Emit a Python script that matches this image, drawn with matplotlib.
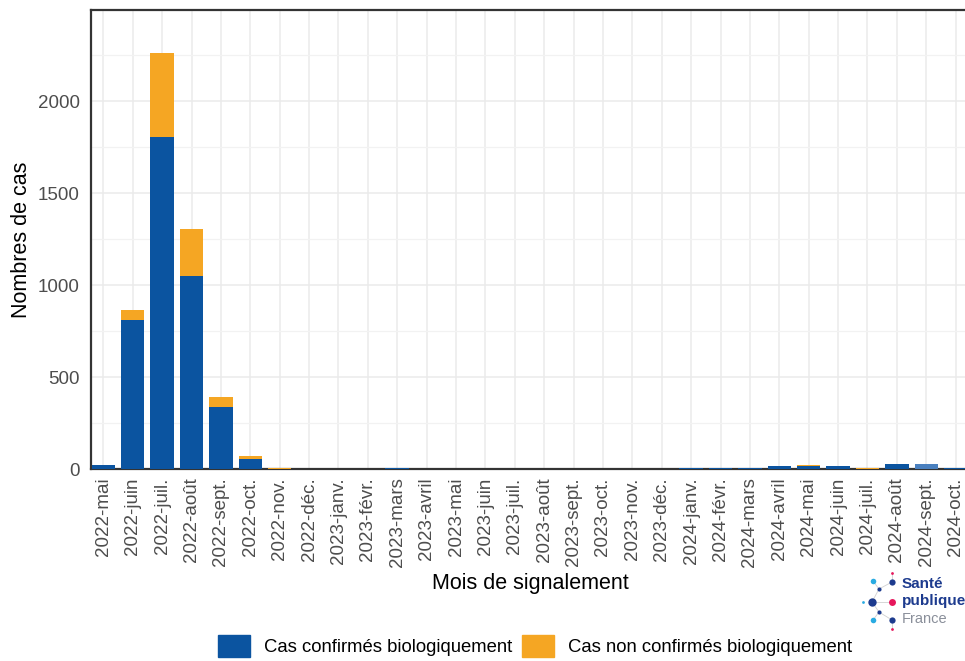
import matplotlib
matplotlib.use('Agg')
import matplotlib.pyplot as plt
import numpy as np

plt.rcParams['font.family'] = ['Liberation Sans', 'DejaVu Sans']

# Monthly case counts
mois = ['2022-mai', '2022-juin', '2022-juil.', '2022-août', '2022-sept.', '2022-oct.',
        '2022-nov.', '2022-déc.', '2023-janv.', '2023-févr.', '2023-mars', '2023-avril',
        '2023-mai', '2023-juin', '2023-juil.', '2023-août', '2023-sept.', '2023-oct.',
        '2023-nov.', '2023-déc.', '2024-janv.', '2024-févr.', '2024-mars', '2024-avril',
        '2024-mai', '2024-juin', '2024-juil.', '2024-août', '2024-sept.', '2024-oct.']
confirmes = [22, 810, 1804, 1049, 337, 55, 1, 0, 0, 0, 8, 1, 0, 0, 0, 0, 0, 0,
             0, 0, 6, 6, 6, 14, 16, 14, 1, 25, 25, 7]
non_confirmes = [0, 55, 457, 255, 54, 17, 6, 0, 0, 0, 0, 0, 0, 0, 0, 0, 0, 0,
                 0, 0, 0, 0, 0, 0, 4, 0, 6, 0, 0, 0]
# last complete month is drawn lighter
incomplet = '2024-sept.'

BLEU = '#0b54a0'
BLEU_CLAIR = '#4a80bf'
ORANGE = '#f5a623'

W, H = 965, 661
fig = plt.figure(figsize=(W / 100, H / 100), dpi=100)
x_left, x_right, y_top, y_bot = 91, 968, 10, 469
ax = fig.add_axes([x_left / W, (H - y_bot) / H, (x_right - x_left) / W, (y_bot - y_top) / H])

x = np.arange(len(mois))
couleurs = [BLEU_CLAIR if m == incomplet else BLEU for m in mois]
ax.bar(x, confirmes, width=0.8, color=couleurs, zorder=3)
ax.bar(x, non_confirmes, width=0.8, bottom=confirmes, color=ORANGE, zorder=3)

ax.set_xlim(-0.42, len(mois) - 0.58)
ax.set_ylim(0, 2495)
ax.set_yticks([0, 500, 1000, 1500, 2000])
ax.set_yticks([250, 750, 1250, 1750, 2250], minor=True)
ax.set_xticks(x)
ax.set_xticklabels(mois, rotation=90)
ax.grid(True, which='major', axis='y', color='#ebebeb', lw=1.1, zorder=0)
ax.grid(True, which='minor', axis='y', color='#f2f2f2', lw=0.9, zorder=0)
ax.grid(True, which='major', axis='x', color='#ebebeb', lw=1.1, zorder=0)
ax.tick_params(axis='both', which='both', length=0, labelsize=13.5, labelcolor='#4d4d4d')
ax.tick_params(axis='y', pad=8)
ax.tick_params(axis='x', pad=6)
for s in ['left', 'top', 'bottom']:
    ax.spines[s].set_color('#333333')
    ax.spines[s].set_linewidth(1.6)
ax.spines['right'].set_visible(False)
ax.set_ylabel('Nombres de cas', fontsize=15.5, labelpad=4)
ax.set_xlabel('Mois de signalement', fontsize=15.5)
ax.xaxis.set_label_coords((530 - x_left) / (x_right - x_left), (y_bot - 573) / (y_bot - y_top))

# legend
handles = [plt.Rectangle((0, 0), 1, 1, color=BLEU), plt.Rectangle((0, 0), 1, 1, color=ORANGE)]
fig.legend(handles, ['Cas confirmés biologiquement', 'Cas non confirmés biologiquement'],
           loc='center', bbox_to_anchor=(535 / W, (H - 646) / H), ncol=2, frameon=False,
           fontsize=13.3, handlelength=1.73, handleheight=1.5, handletextpad=0.75,
           columnspacing=0.55)

# Santé publique France logo
lg = fig.add_axes([0, 0, 1, 1], facecolor='none')
lg.set_xlim(0, W)
lg.set_ylim(H, 0)
lg.axis('off')
pts = [(873, 581, 4, '#29abe2'), (892, 582, 4.5, '#1d3b8e'), (892, 573, 2, '#e6175c'),
       (879, 589, 3, '#1d3b8e'), (872, 602, 6, '#1d3b8e'), (863, 602, 2, '#29abe2'),
       (892, 602, 5, '#e6175c'), (879, 612, 3, '#1d3b8e'), (873, 620, 4, '#29abe2'),
       (892, 620, 4.5, '#1d3b8e'), (892, 629, 2, '#e6175c')]
for a, b in [(0, 3), (3, 4), (4, 7), (7, 8), (1, 3), (4, 6), (7, 9), (2, 1), (9, 10)]:
    lg.plot([pts[a][0], pts[b][0]], [pts[a][1], pts[b][1]], color='#d0d0d0', lw=0.6)
for px, py, s, c in pts:
    lg.plot(px, py, 'o', ms=s, color=c, mec='none')
lg.text(902, 584, 'Santé', fontsize=11, fontweight='bold', color='#1d3b8e', va='center')
lg.text(902, 601, 'publique', fontsize=11, fontweight='bold', color='#1d3b8e', va='center')
lg.text(902, 619, 'France', fontsize=10.5, color='#8a8f9a', va='center')

fig.savefig('out.png', dpi=100)
